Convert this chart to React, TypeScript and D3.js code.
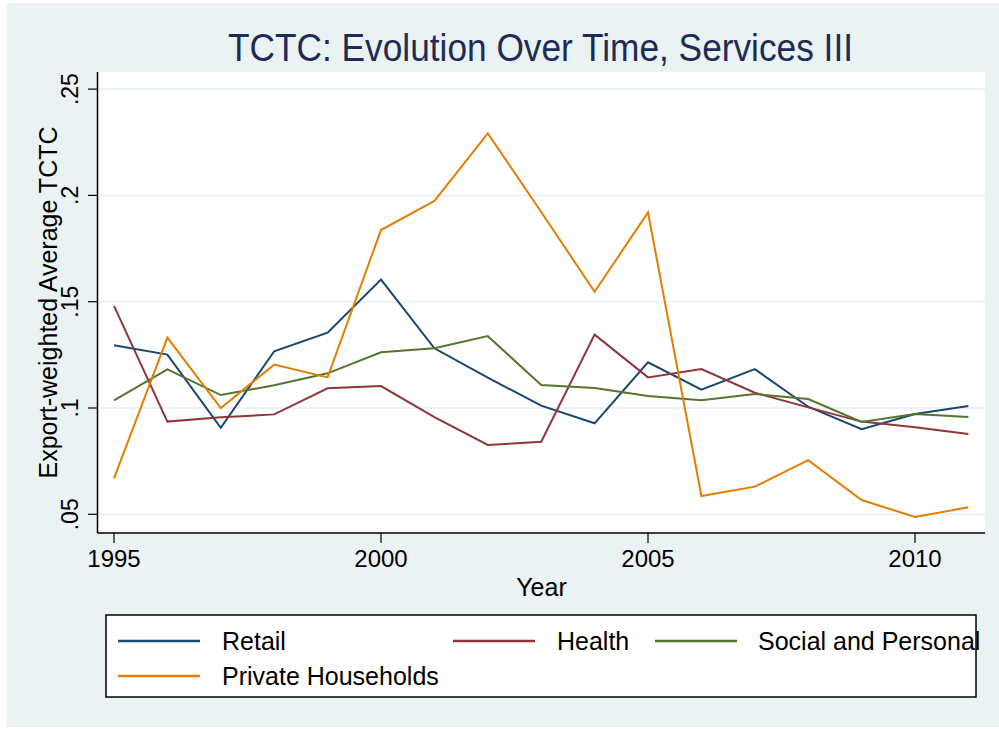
import React from "react";
import * as d3 from "d3";

const years = [1995, 1996, 1997, 1998, 1999, 2000, 2001, 2002, 2003, 2004, 2005, 2006, 2007, 2008, 2009, 2010, 2011];
const retail = [0.1295, 0.1251, 0.0907, 0.1267, 0.1354, 0.1604, 0.1281, 0.1143, 0.1011, 0.0928, 0.1215, 0.1086, 0.1183, 0.1006, 0.0900, 0.0972, 0.1009];
const health = [0.1480, 0.0936, 0.0956, 0.0970, 0.1093, 0.1103, 0.0957, 0.0826, 0.0841, 0.1345, 0.1144, 0.1183, 0.1072, 0.1003, 0.0936, 0.0909, 0.0878];
const social = [0.1036, 0.1182, 0.1061, 0.1107, 0.1163, 0.1262, 0.1281, 0.1338, 0.1108, 0.1094, 0.1056, 0.1036, 0.1066, 0.1042, 0.0934, 0.0972, 0.0958];
const privateHouseholds = [0.0669, 0.1331, 0.1000, 0.1204, 0.1144, 0.1837, 0.1974, 0.2292, 0.1922, 0.1547, 0.1920, 0.0586, 0.0630, 0.0755, 0.0567, 0.0487, 0.0533];

const seriesNames = ["Retail", "Health", "Social and Personal", "Private Households"];
const seriesColors = ["#1a476f", "#90353b", "#55752f", "#e37e00"];
const seriesValues = [retail, health, social, privateHouseholds];

const yTicks = [0.05, 0.1, 0.15, 0.2, 0.25];
const yTickLabels = [".05", ".1", ".15", ".2", ".25"];
const xTicks = [1995, 2000, 2005, 2010];

const titleText = "TCTC: Evolution Over Time, Services III";
const yTitle = "Export-weighted Average TCTC";
const xTitle = "Year";

export default function App() {
  const W = 999, H = 729;
  const plotL = 98, plotR = 985, plotT = 72, plotB = 533;
  const x = d3.scaleLinear().domain([1995, 2010]).range([114, 915]);
  const y = d3.scaleLinear().domain([0.05, 0.25]).range([514.3, 89.1]);
  const line = d3.line<number>().x((_, i) => x(years[i])).y((d) => y(d));
  const font = "'Liberation Sans', Arial, Helvetica, sans-serif";
  const bg = "#eaf2f3";

  const legendRows = [
    [{ i: 0, lx: 118, tx: 222 }, { i: 1, lx: 453, tx: 557 }, { i: 2, lx: 655, tx: 758 }],
    [{ i: 3, lx: 118, tx: 222 }],
  ];
  const rowY = [641, 676];

  return (
    <svg width={W} height={H} style={{ position: "absolute", left: 0, top: 0, display: "block" }} fontFamily={font}>
      <rect x={0} y={0} width={W} height={H} fill="#ffffff" />
      <rect x={7} y={3} width={992} height={724} fill={bg} />
      <rect x={plotL} y={plotT} width={plotR - plotL} height={plotB - plotT} fill="#ffffff" />
      {yTicks.map((t) => (
        <line key={"g" + t} x1={plotL} x2={plotR} y1={y(t)} y2={y(t)} stroke={bg} strokeWidth={2} />
      ))}
      {seriesValues.map((vals, k) => (
        <path key={seriesNames[k]} d={line(vals) || ""} fill="none" stroke={seriesColors[k]} strokeWidth={2} strokeLinejoin="miter" />
      ))}
      <line x1={97.5} x2={97.5} y1={plotT} y2={plotB} stroke="#000" strokeWidth={1.5} />
      <line x1={97.5} x2={plotR} y1={plotB} y2={plotB} stroke="#000" strokeWidth={1.5} />
      {yTicks.map((t, i) => (
        <g key={"y" + t}>
          <line x1={88} x2={97.5} y1={y(t)} y2={y(t)} stroke="#000" strokeWidth={1.2} />
          <text transform={`translate(78,${y(t)}) rotate(-90)`} textAnchor="middle" fontSize={23} fill="#000">
            {yTickLabels[i]}
          </text>
        </g>
      ))}
      {xTicks.map((t) => (
        <g key={"x" + t}>
          <line x1={x(t)} x2={x(t)} y1={plotB} y2={543} stroke="#000" strokeWidth={1.2} />
          <text x={x(t)} y={567} textAnchor="middle" fontSize={24} fill="#000">
            {t}
          </text>
        </g>
      ))}
      <text x={541.5} y={596} textAnchor="middle" fontSize={25} fill="#000">{xTitle}</text>
      <text transform={`translate(57,${(plotT + plotB) / 2}) rotate(-90)`} textAnchor="middle" fontSize={25} fill="#000">
        {yTitle}
      </text>
      <text x={540.5} y={61} textAnchor="middle" fontSize={38} fill="#1e2b55" textLength={625} lengthAdjust="spacingAndGlyphs">
        {titleText}
      </text>
      <rect x={106} y={615} width={870} height={82} fill="#ffffff" stroke="#000" strokeWidth={1.5} />
      {legendRows.map((row, r) =>
        row.map((e) => (
          <g key={seriesNames[e.i]}>
            <line x1={e.lx} x2={e.lx + 82} y1={rowY[r]} y2={rowY[r]} stroke={seriesColors[e.i]} strokeWidth={2.5} />
            <text x={e.tx} y={rowY[r] + 8.5} fontSize={25} fill="#000">{seriesNames[e.i]}</text>
          </g>
        ))
      )}
    </svg>
  );
}
